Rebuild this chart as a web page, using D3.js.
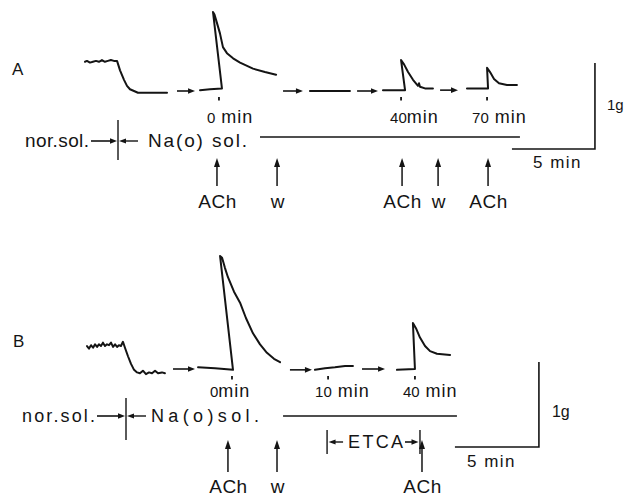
<!DOCTYPE html>
<html><head><meta charset="utf-8">
<script src="https://cdn.jsdelivr.net/npm/d3@7"></script>
<style>
html,body{margin:0;padding:0;background:#fff}
svg{display:block}
text{font-family:"Liberation Sans",Arial,Helvetica,sans-serif;fill:#141414}
</style>
</head><body>
<svg id="c" width="626" height="496"></svg>
<script>
// ---------- DATA (time in record-minutes, tension in g above Na-free baseline) ----------
// Panel A trace segments
const traceA_pre = [[0,0.34],[0.12,0.35],[0.30,0.33],[0.48,0.34],[0.66,0.35],[0.84,0.34],[1.02,0.36],[1.20,0.34],[1.38,0.35],[1.56,0.36],[1.74,0.35],[1.93,0.35],[2.11,0.24],[2.35,0.13],[2.53,0.06],[2.71,0.02],[2.95,0.0],[3.19,-0.02],[3.92,-0.02],[4.94,-0.02]];
const traceA_0   = [[6.93,0.01],[7.53,0.02],[8.25,0.03],[7.71,0.92],[7.80,0.89],[7.89,0.83],[8.13,0.67],[8.31,0.51],[8.55,0.44],[8.92,0.38],[9.34,0.33],[10.12,0.26],[10.84,0.22],[11.51,0.19]];
const traceA_mid = [[13.55,0.0],[15.96,0.0]];
const traceA_40  = [[17.95,0.01],[19.28,0.01],[19.04,0.36],[19.22,0.31],[19.46,0.22],[19.76,0.13],[20.06,0.06],[20.12,0.09],[20.18,0.05],[20.48,0.03],[20.96,0.03]];
const traceA_70  = [[23.01,0.03],[24.28,0.03],[24.22,0.27],[24.40,0.22],[24.64,0.14],[24.94,0.09],[25.42,0.07],[26.02,0.07]];
const breaksA    = [[5.54,6.63,0.0],[11.93,13.13,0.0],[16.39,17.65,0.0],[21.39,22.47,0.01]];
const marksA     = [{t:8.07,num:"0",unit:" min"},{t:19.04,num:"40",unit:"min"},{t:24.22,num:"70",unit:" min"}];
const stimA      = [{t:7.95,label:"ACh"},{t:11.57,label:"w"},{t:19.10,label:"ACh"},{t:21.27,label:"w"},{t:24.28,label:"ACh"}];

// Panel B trace segments
const traceB_pre = [[0,0.27],[0.12,0.24],[0.24,0.28],[0.36,0.25],[0.48,0.29],[0.60,0.26],[0.71,0.29],[0.83,0.27],[0.95,0.31],[1.07,0.27],[1.19,0.29],[1.31,0.28],[1.43,0.31],[1.55,0.26],[1.67,0.29],[1.79,0.26],[1.90,0.28],[2.02,0.27],[2.14,0.32],[2.26,0.25],[2.44,0.15],[2.62,0.06],[2.80,-0.01],[2.98,-0.04],[3.15,-0.05],[3.33,-0.02],[3.51,-0.06],[3.69,-0.04],[3.87,-0.05],[4.05,-0.02],[4.23,-0.05],[4.46,-0.04],[4.64,-0.05]];
const traceB_0   = [[6.61,0.02],[7.62,0.01],[8.69,-0.01],[7.92,1.33],[8.04,1.31],[8.21,1.19],[8.39,1.08],[8.75,0.91],[9.11,0.78],[9.46,0.60],[9.88,0.42],[10.30,0.29],[10.71,0.19],[11.13,0.12],[11.49,0.08]];
const traceB_10  = [[13.57,-0.01],[14.17,0.01],[14.76,0.02],[15.36,0.035],[15.83,0.035]];
const traceB_40  = [[18.45,-0.01],[19.52,0.0],[19.40,0.54],[19.58,0.48],[19.82,0.37],[20.12,0.27],[20.42,0.21],[20.83,0.18],[21.61,0.165]];
const breaksB    = [[5.12,6.43,0.0],[12.08,13.39,-0.01],[16.37,17.74,0.0]];
const marksB     = [{t:8.63,num:"0",unit:"min"},{t:14.35,num:"10",unit:" min"},{t:19.52,num:"40",unit:" min"}];
const stimB      = [{t:8.39,label:"ACh"},{t:11.31,label:"w"},{t:19.94,label:"ACh"}];
const etcaB      = [14.29,19.82];

// calibration bars (5 min, 1 g)
const calTime = 5, calTension = 1;

// ---------- DRAW ----------
const svg = d3.select("#c");
const ink = "#141414";

function hArrow(g, x1, x2, y){
  g.append("line").attr("x1",x1).attr("x2",x2-5).attr("y1",y).attr("y2",y)
    .attr("stroke",ink).attr("stroke-width",1.6);
  g.append("path").attr("d",`M${x2},${y}L${x2-7},${y-2.8}L${x2-7},${y+2.8}Z`).attr("fill",ink);
}
function hArrowL(g, x1, x2, y){ // points left to x2
  g.append("line").attr("x1",x1).attr("x2",x2+5).attr("y1",y).attr("y2",y)
    .attr("stroke",ink).attr("stroke-width",1.4);
  g.append("path").attr("d",`M${x2},${y}L${x2+7},${y-2.6}L${x2+7},${y+2.6}Z`).attr("fill",ink);
}
function vArrow(g, x, yTop, yBot){
  g.append("line").attr("x1",x).attr("x2",x).attr("y1",yBot).attr("y2",yTop+6)
    .attr("stroke",ink).attr("stroke-width",1.5);
  g.append("path").attr("d",`M${x},${yTop}L${x-3},${yTop+9}L${x+3},${yTop+9}Z`).attr("fill",ink);
}

function panel(cfg){
  const g = svg.append("g");
  const x = d3.scaleLinear().domain([0,5]).range([cfg.x0, cfg.x0+cfg.px5]);
  const y = d3.scaleLinear().domain([0,1]).range([cfg.y0, cfg.y0-cfg.px1g]);
  const line = d3.line().x(d=>x(d[0])).y(d=>y(d[1])).curve(d3.curveLinear);

  cfg.traces.forEach(t=>{
    g.append("path").attr("d",line(t)).attr("fill","none").attr("stroke",ink)
      .attr("stroke-width",2).attr("stroke-linejoin","round").attr("stroke-linecap","round");
  });
  cfg.breaks.forEach(b=> hArrow(g, x(b[0]), x(b[1]), y(b[2])));

  // stimulus tick marks & time labels
  cfg.marks.forEach((m,i)=>{
    g.append("line").attr("x1",x(m.t)).attr("x2",x(m.t))
      .attr("y1",cfg.y0+cfg.tickY).attr("y2",cfg.y0+cfg.tickY+3.5)
      .attr("stroke",ink).attr("stroke-width",1.8);
    const tx = g.append("text").attr("x",x(m.t)+cfg.markDx[i]).attr("y",cfg.markY)
      .style("font-size",cfg.markFs+"px");
    tx.append("tspan").style("font-size",(cfg.markFs-3)+"px").text(m.num);
    tx.append("tspan").style("letter-spacing","1px").text(m.unit);
  });

  // panel letter
  g.append("text").attr("x",cfg.letterX).attr("y",cfg.letterY).style("font-size","17px").text(cfg.letter);

  // solution labels
  g.append("text").attr("x",cfg.norX).attr("y",cfg.labY).style("font-size",cfg.labFs+"px")
    .attr("textLength",cfg.norW).attr("lengthAdjust","spacing").text("nor.sol.");
  hArrow(g, cfg.norX+cfg.norW+2, cfg.divX-1, cfg.labY-6);
  g.append("line").attr("x1",cfg.divX).attr("x2",cfg.divX).attr("y1",cfg.divY[0]).attr("y2",cfg.divY[1])
    .attr("stroke",ink).attr("stroke-width",1.4);
  hArrowL(g, cfg.divX+20, cfg.divX+1, cfg.labY-6);
  g.append("text").attr("x",cfg.naX).attr("y",cfg.labY).style("font-size",cfg.labFs+"px")
    .attr("textLength",cfg.naW).attr("lengthAdjust","spacing").text(cfg.naText);
  g.append("line").attr("x1",x(cfg.solLine[0])).attr("x2",x(cfg.solLine[1]))
    .attr("y1",y(cfg.solLine[2])).attr("y2",y(cfg.solLine[2])).attr("stroke",ink).attr("stroke-width",1.4);

  // stimulus arrows
  cfg.stim.forEach(s=>{
    vArrow(g, x(s.t), cfg.arrowTop, cfg.arrowBot);
    g.append("text").attr("x",x(s.t)+0.5).attr("y",cfg.stimLabY)
      .attr("text-anchor","middle").style("font-size","19px")
      .style("letter-spacing", s.label==="ACh"?"0.5px":"0px").text(s.label);
  });

  // calibration bars
  const c0 = cfg.cal; // [t start, g bottom]
  g.append("path").attr("d",`M${x(c0[0])},${y(c0[1])}H${x(c0[0]+calTime)}V${y(c0[1]+calTension)}`)
    .attr("fill","none").attr("stroke",ink).attr("stroke-width",1.6);
  g.append("text").attr("x",x(c0[0]+calTime)+cfg.gLab[0]).attr("y",cfg.gLab[1]).style("font-size",cfg.gFs+"px").text("1g");
  g.append("text").attr("x",cfg.minLab[0]).attr("y",cfg.minLab[1]).style("font-size","17px")
    .style("letter-spacing","1.5px").text("5 min");

  if(cfg.etca){
    const e = cfg.etca, yy = cfg.etcaY;
    [e[0],e[1]].forEach(t=> g.append("line").attr("x1",x(t)).attr("x2",x(t)).attr("y1",yy-12).attr("y2",yy+12)
      .attr("stroke",ink).attr("stroke-width",1.4));
    hArrowL(g, x(e[0])+16, x(e[0])+1.5, yy);
    hArrow(g, x(e[1])-15, x(e[1])-1.5, yy);
    g.append("text").attr("x",x(e[0])+21).attr("y",yy+6).style("font-size","18px")
      .attr("textLength",55).attr("lengthAdjust","spacing").text("ETCA");
  }
}

panel({
  letter:"A", letterX:12, letterY:75,
  x0:85, px5:83, y0:91, px1g:86,
  traces:[traceA_pre,traceA_0,traceA_mid,traceA_40,traceA_70],
  breaks:breaksA, marks:marksA, markDx:[-12,-11,-15], markY:123, markFs:18, tickY:6,
  norX:25, norW:64, labY:147, labFs:19, divX:118, divY:[120,160],
  naX:148, naW:99, naText:"Na(o) sol.",
  solLine:[10.54,26.2,-0.535],
  stim:stimA, arrowTop:158, arrowBot:186, stimLabY:208,
  cal:[25.72,-0.674], gLab:[12,110], gFs:15, minLab:[533,168]
});

panel({
  letter:"B", letterX:13, letterY:347,
  x0:87, px5:84, y0:369, px1g:85,
  traces:[traceB_pre,traceB_0,traceB_10,traceB_40],
  breaks:breaksB, marks:marksB, markDx:[-22,-13,-12], markY:397, markFs:18, tickY:7,
  norX:22, norW:73, labY:422, labFs:18, divX:126, divY:[398,440],
  naX:151, naW:108, naText:"Na(o)sol.",
  solLine:[11.67,22.02,-0.553],
  stim:stimB, arrowTop:440, arrowBot:472, stimLabY:493,
  cal:[21.9,-0.918], gLab:[13,417], gFs:16, minLab:[467,467],
  etca:etcaB, etcaY:442
});
</script>
</body></html>
